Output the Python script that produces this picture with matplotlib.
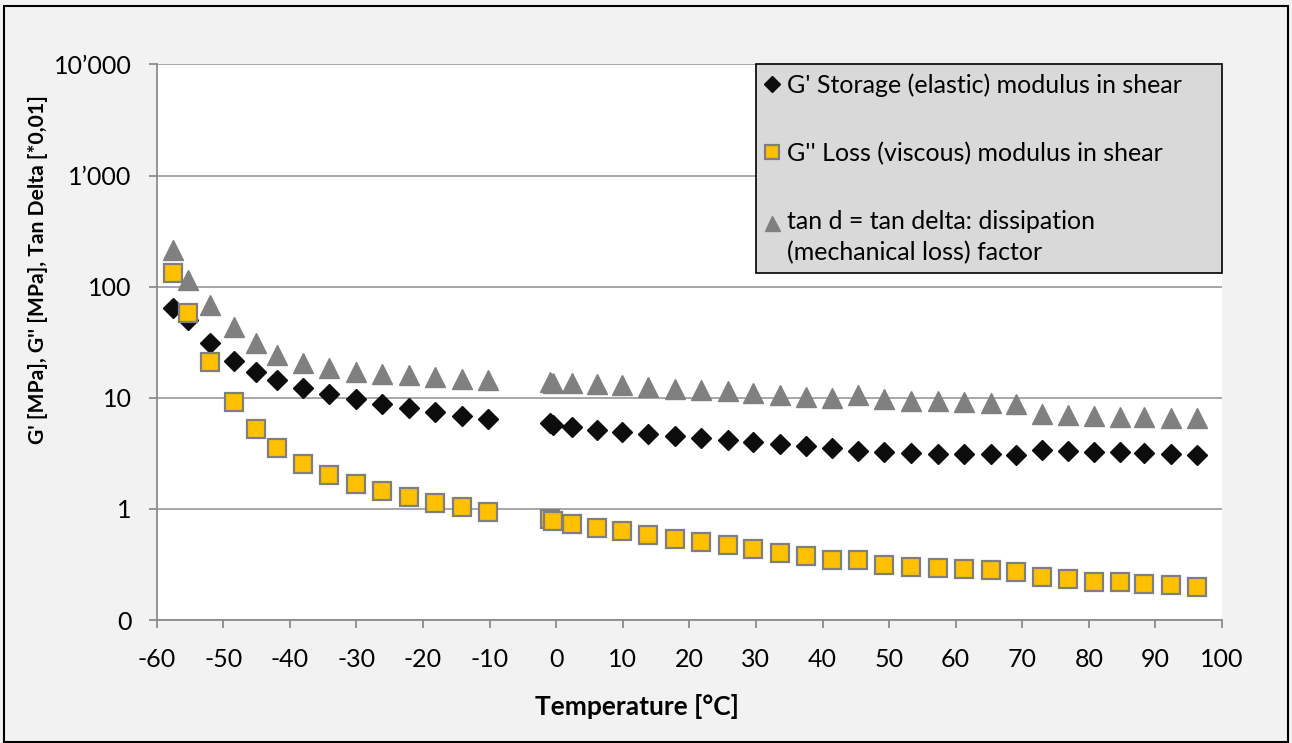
import matplotlib
matplotlib.use("Agg")
import matplotlib.pyplot as plt
from matplotlib.patches import Rectangle

# =====================================================================
# DADOS
# =====================================================================
temp_c = [
    -57.5, -55.3, -52.0, -48.4, -45.1, -41.9, -38.0, -34.1, -30.1, -26.1,
    -22.1, -18.2, -14.2, -10.2,
    -0.9, -0.5, 2.4, 6.2, 9.9, 13.8, 17.8, 21.7, 25.8, 29.6, 33.6, 37.5,
    41.5, 45.4, 49.2, 53.3, 57.4, 61.3, 65.3, 69.0, 72.9, 76.9, 80.8, 84.7,
    88.3, 92.4, 96.3,
]

g_storage = [
    64.5, 50.6, 31.2, 21.3, 17.1, 14.4, 12.3, 10.9, 9.8, 8.8,
    8.1, 7.4, 6.9, 6.5,
    5.87, 5.64, 5.41, 5.12, 4.88, 4.68, 4.52, 4.31, 4.13, 3.99, 3.83, 3.70,
    3.50, 3.34, 3.24, 3.20, 3.13, 3.11, 3.09, 3.07, 3.38, 3.31, 3.27, 3.22,
    3.18, 3.11, 3.05,
]

g_loss = [
    133, 58, 21.1, 9.1, 5.19, 3.50, 2.51, 2.0, 1.66, 1.44,
    1.27, 1.12, 1.03, 0.935,
    0.805, 0.783, 0.726, 0.678, 0.634, 0.581, 0.539, 0.502, 0.469, 0.437,
    0.401, 0.374, 0.349, 0.344, 0.313, 0.299, 0.292, 0.286, 0.280, 0.270,
    0.243, 0.233, 0.222, 0.218, 0.212, 0.206, 0.200,
]

tan_delta = [
    214, 114, 68.5, 43, 31, 24.4, 20.5, 18.5, 17.2, 16.4,
    15.9, 15.3, 14.9, 14.5,
    14.0, 13.7, 13.5, 13.2, 13.0, 12.6, 12.1, 11.7, 11.4, 11.0, 10.5, 10.2,
    10.0, 10.5, 9.7, 9.4, 9.33, 9.2, 9.03, 8.83, 7.13, 6.98, 6.84, 6.77,
    6.70, 6.61, 6.52,
]

y_ticks = [0.1, 1, 10, 100, 1000, 10000]
y_tick_labels = ["0", "1", "10", "100", "1\u2019000", "10\u2019000"]
x_ticks = list(range(-60, 101, 10))

# =====================================================================
# FIGURA
# =====================================================================
plt.rcParams["font.family"] = ["Lato", "DejaVu Sans"]

fig = plt.figure(figsize=(12.92, 7.43), dpi=100, facecolor="#F2F2F2")
ax = fig.add_axes([0.1213, 0.1655, 0.8245, 0.7478])
ax.set_facecolor("white")

ax.plot(temp_c, g_storage, ls="", marker="D", ms=10.2, color="#0D0D0D",
        mec="#0D0D0D", label="G' Storage (elastic) modulus in shear", zorder=3)
ax.plot(temp_c, g_loss, ls="", marker="s", ms=13.2, color="#FFC000",
        mec="#7F7F7F", mew=1.6, label="G'' Loss (viscous) modulus in shear", zorder=3)
ax.plot(temp_c, tan_delta, ls="", marker="^", ms=14.4, color="#808080",
        mec="#808080", label="tan d = tan delta: dissipation\n(mechanical loss) factor",
        zorder=3)

ax.set_yscale("log")
ax.set_ylim(0.1, 10000)
ax.set_xlim(-60, 100)
ax.set_yticks(y_ticks)
ax.set_yticklabels(y_tick_labels)
ax.minorticks_off()
ax.set_xticks(x_ticks)
ax.set_xticklabels([str(t) for t in x_ticks])

ax.grid(axis="y", color="#A0A0A0", linewidth=1.3)
ax.set_axisbelow(True)
for s in ["top", "right"]:
    ax.spines[s].set_visible(False)
for s in ["left", "bottom"]:
    ax.spines[s].set_color("#8C8C8C")
    ax.spines[s].set_linewidth(1.3)
ax.tick_params(axis="both", colors="#8C8C8C", labelcolor="black",
               length=6, width=1.3, labelsize=18)
ax.tick_params(axis="y", pad=12)
ax.tick_params(axis="x", pad=14)

ax.set_xlabel("Temperature [\u00b0C]", fontsize=19, fontweight="bold", va="center")
ax.xaxis.set_label_coords(0.451, -0.155)
ax.set_ylabel("G' [MPa], G'' [MPa], Tan Delta [*0,01]", fontsize=15.2,
              fontweight="bold", va="center")
ax.yaxis.set_label_coords(-0.111, 0.63)

leg = ax.legend(loc="upper left", bbox_to_anchor=(0.5626, 0.0, 0.4374, 1.0),
                mode="expand", borderaxespad=0, fontsize=18, labelspacing=1.8,
                handlelength=0.6, handletextpad=0.3, borderpad=0.35,
                fancybox=False, framealpha=1, markerscale=0.75)
for t in leg.get_texts():
    t.set_linespacing(1.4)
# marcador do 3o item alinhado com a primeira linha do texto
h3 = leg.legend_handles[2]
h3.set_ydata([y + 10.8 for y in h3.get_ydata()])
leg.get_frame().set_facecolor("#D9D9D9")
leg.get_frame().set_edgecolor("black")
leg.get_frame().set_linewidth(1.2)

# moldura externa
fig.patches.append(Rectangle((0.003, 0.002), 0.994, 0.990, transform=fig.transFigure,
                             fill=False, edgecolor="black", linewidth=1.5))

fig.savefig("out.png", dpi=100, facecolor=fig.get_facecolor())
